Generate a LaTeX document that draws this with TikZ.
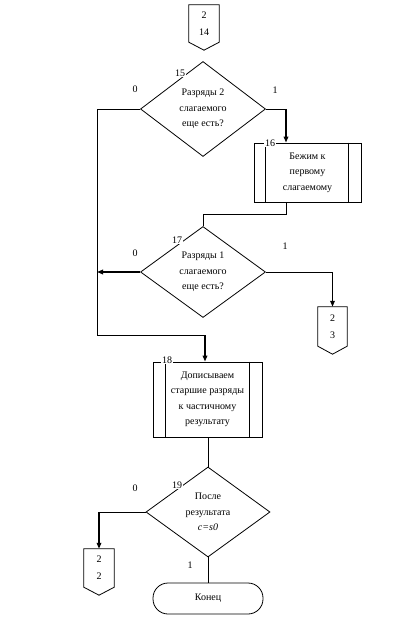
\documentclass[tikz,border=0pt]{standalone}
\usepackage{fontspec}
\setmainfont{Liberation Serif}
\usepackage{tikz}
\usetikzlibrary{shapes.geometric,arrows.meta}
\tikzset{
  line/.style={draw=black, line width=0.8pt},
  arr/.style={draw=black, line width=1.6pt, -{Triangle[length=6pt,width=4.5pt]}},
  txt/.style={font=\fontsize{10}{15.5}\selectfont, align=center},
  dec/.style={txt, diamond, draw=black, line width=0.8pt, inner sep=0pt, minimum width=125pt, minimum height=95pt},
  proc/.style={txt, rectangle, draw=black, line width=0.8pt, inner sep=0pt},
  conn/.style={txt, rectangle, inner sep=0pt, minimum width=30pt, minimum height=37pt, font=\fontsize{10}{17}\selectfont},
  term/.style={txt, rectangle, rounded corners=15pt, draw=black, line width=0.8pt, minimum width=110pt, minimum height=31pt},
  lab/.style={font=\fontsize{10}{12}\selectfont, inner sep=1pt},
  num/.style={lab, fill=white},
}

\begin{document}
\begin{tikzpicture}[x=1pt,y=-1pt]
  \useasboundingbox (0,0) rectangle (404,634);
  % blocks
  \node[conn] (c14) at (204,23.5) {2\\14};
  \node[dec] (d15) at (203,109) {Разряды 2\\слагаемого\\еще есть?};
  \node[proc, minimum width=107pt, minimum height=59pt] (b16) at (307.5,172.5) {Бежим к\\первому\\слагаемому};
  \node[dec, minimum height=91pt] (d17) at (203,272) {Разряды 1\\слагаемого\\еще есть?};
  \node[conn, minimum width=29pt, minimum height=39pt] (c23) at (332.5,326.5) {2\\3};
  \node[proc, minimum width=109pt, minimum height=75pt] (b18) at (207.5,399.5) {Дописываем\\старшие разряды\\к частичному\\результату};
  \node[dec, minimum width=124pt, minimum height=90pt] (d19) at (208,512) {После\\результата\\\textit{c=s0}};
  \node[conn, minimum height=38pt] (c22) at (99,568) {2\\2};
  \node[term] (t) at (208,598.5) {Конец};
  % off-page connectors
  \foreach \c in {c14,c23,c22}
    \draw[line] (\c.north west) -- (\c.north east) -- (\c.south east)
      -- ([yshift=-8pt]\c.south) -- (\c.south west) -- cycle;
  % inner lines of the process blocks
  \foreach \b/\l/\r in {b16/12/13,b18/13/13} {
    \draw[line] ([xshift=\l pt]\b.north west) -- ([xshift=\l pt]\b.south west);
    \draw[line] ([xshift=-\r pt]\b.north east) -- ([xshift=-\r pt]\b.south east);
  }
  % connectors
  \coordinate (j1) at (97,335);
  \coordinate (k18) at (205,335);
  \coordinate (k16) at (286,109);
  \coordinate (k17) at (203,214);
  \draw[line] (d15.west) -| (j1) -- (k18);
  \draw[arr] (k18) -- (k18 |- b18.north);
  \draw[line] (d15.east) -- (k16);
  \draw[arr] (k16) -- (k16 |- b16.north);
  \draw[line] (k16 |- b16.south) |- (k17) -- (d17.north);
  \draw[arr] (d17.west) -- (d17.west -| j1);
  \coordinate (k23) at (d17.east -| c23.north);
  \draw[line] (d17.east) -- (k23);
  \draw[arr] (k23) -- (c23.north);
  \draw[line] (d19.north |- b18.south) -- (d19.north);
  \coordinate (k22) at (d19.west -| c22.north);
  \draw[line] (d19.west) -- (k22);
  \draw[arr] (k22) -- (c22.north);
  \draw[line] (d19.south) -- (t.north);
  % labels
  \node[num] at (180,73) {15};
  \node[num] at (270,143) {16};
  \node[num] at (177,240) {17};
  \node[num] at (167,360) {18};
  \node[num] at (177,485) {19};
  \node[lab] at (135,89) {0};
  \node[lab] at (275,90) {1};
  \node[lab] at (135,253) {0};
  \node[lab] at (285,246) {1};
  \node[lab] at (135,488) {0};
  \node[lab] at (190,565) {1};
\end{tikzpicture}
\end{document}
